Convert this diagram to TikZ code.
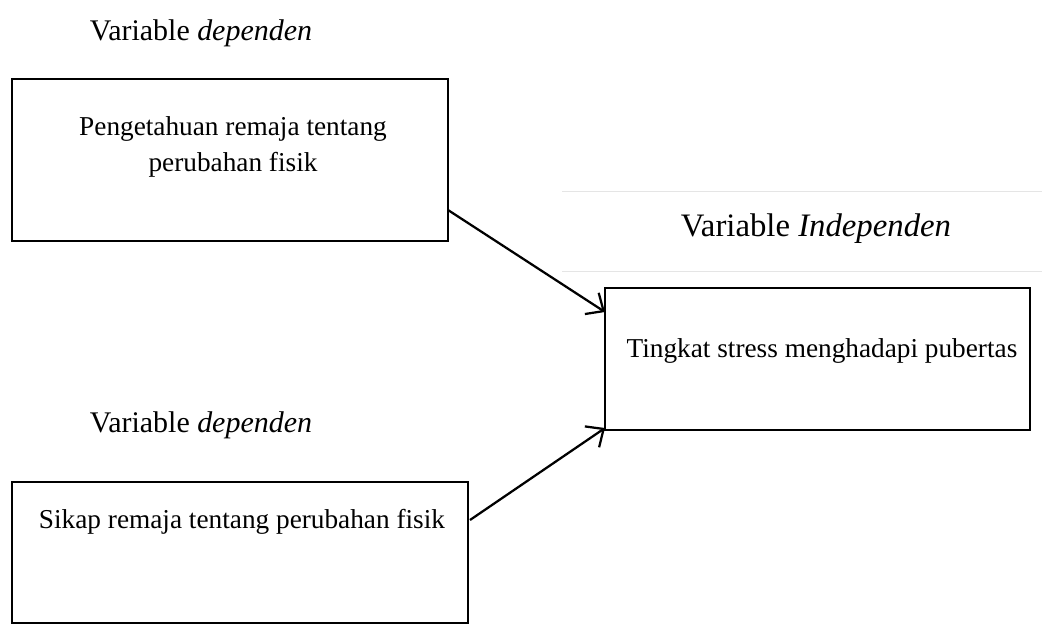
\documentclass[tikz,border=0pt]{standalone}
\usepackage{fontspec}
\setmainfont{Liberation Serif}
\usetikzlibrary{arrows.meta}
\begin{document}
\begin{tikzpicture}[x=0.025cm,y=-0.025cm,
    kotak/.style={draw, line width=1.4pt, inner sep=0pt},
    teks/.style={font=\fontsize{19.4}{25}\selectfont, align=center},
    label/.style={font=\fontsize{21.3}{25}\selectfont},
    panah/.style={line width=1.6pt, -{Straight Barb[length=10pt,width=18pt]}}]
        % Fix the page size
        \useasboundingbox (0,0) rectangle (1042,639);
    
        % Faint rules around the right label
        \draw[gray!20] (562,191) -- (1042,191);
        \draw[gray!20] (562,271) -- (1042,271);
    
        % Labels of the variables
        \node[label] (labelsatu) at (201,33) {Variable \textit{dependen}};
        \node[label] (labeldua) at (201,425) {Variable \textit{dependen}};
        \node[label, font=\fontsize{23.3}{27}\selectfont] (labeltiga) at (816,229) {Variable \textit{Independen}};
    
        % Draw the boxes
        \node[kotak, minimum width=10.9cm, minimum height=4.05cm] (pengetahuan) at (230,160) {};
        \node[kotak, minimum width=10.625cm, minimum height=3.55cm] (tingkat) at (817.5,359) {};
        \node[kotak, minimum width=11.4cm, minimum height=3.525cm] (sikap) at (240,552.5) {};
    
        % Texts in the boxes
        \node[teks] (pengetahuanteks) at (233,147) {Pengetahuan remaja tentang\\perubahan fisik};
        \node[teks] (tingkatteks) at (822,351) {Tingkat stress menghadapi pubertas};
        \node[teks] (sikapteks) at (242,522) {Sikap remaja tentang perubahan fisik};
    
        % Ends of the arrows
        \coordinate (awalsatu) at (448,210);
        \coordinate (akhirsatu) at (605,312);
        \coordinate (awaldua) at (470,520);
        \coordinate (akhirdua) at (605,428);
    
        % Draw the arrows
        \draw[panah] (awalsatu) -- (akhirsatu);
        \draw[panah] (awaldua) -- (akhirdua);
    
    \end{tikzpicture}
\end{document}
